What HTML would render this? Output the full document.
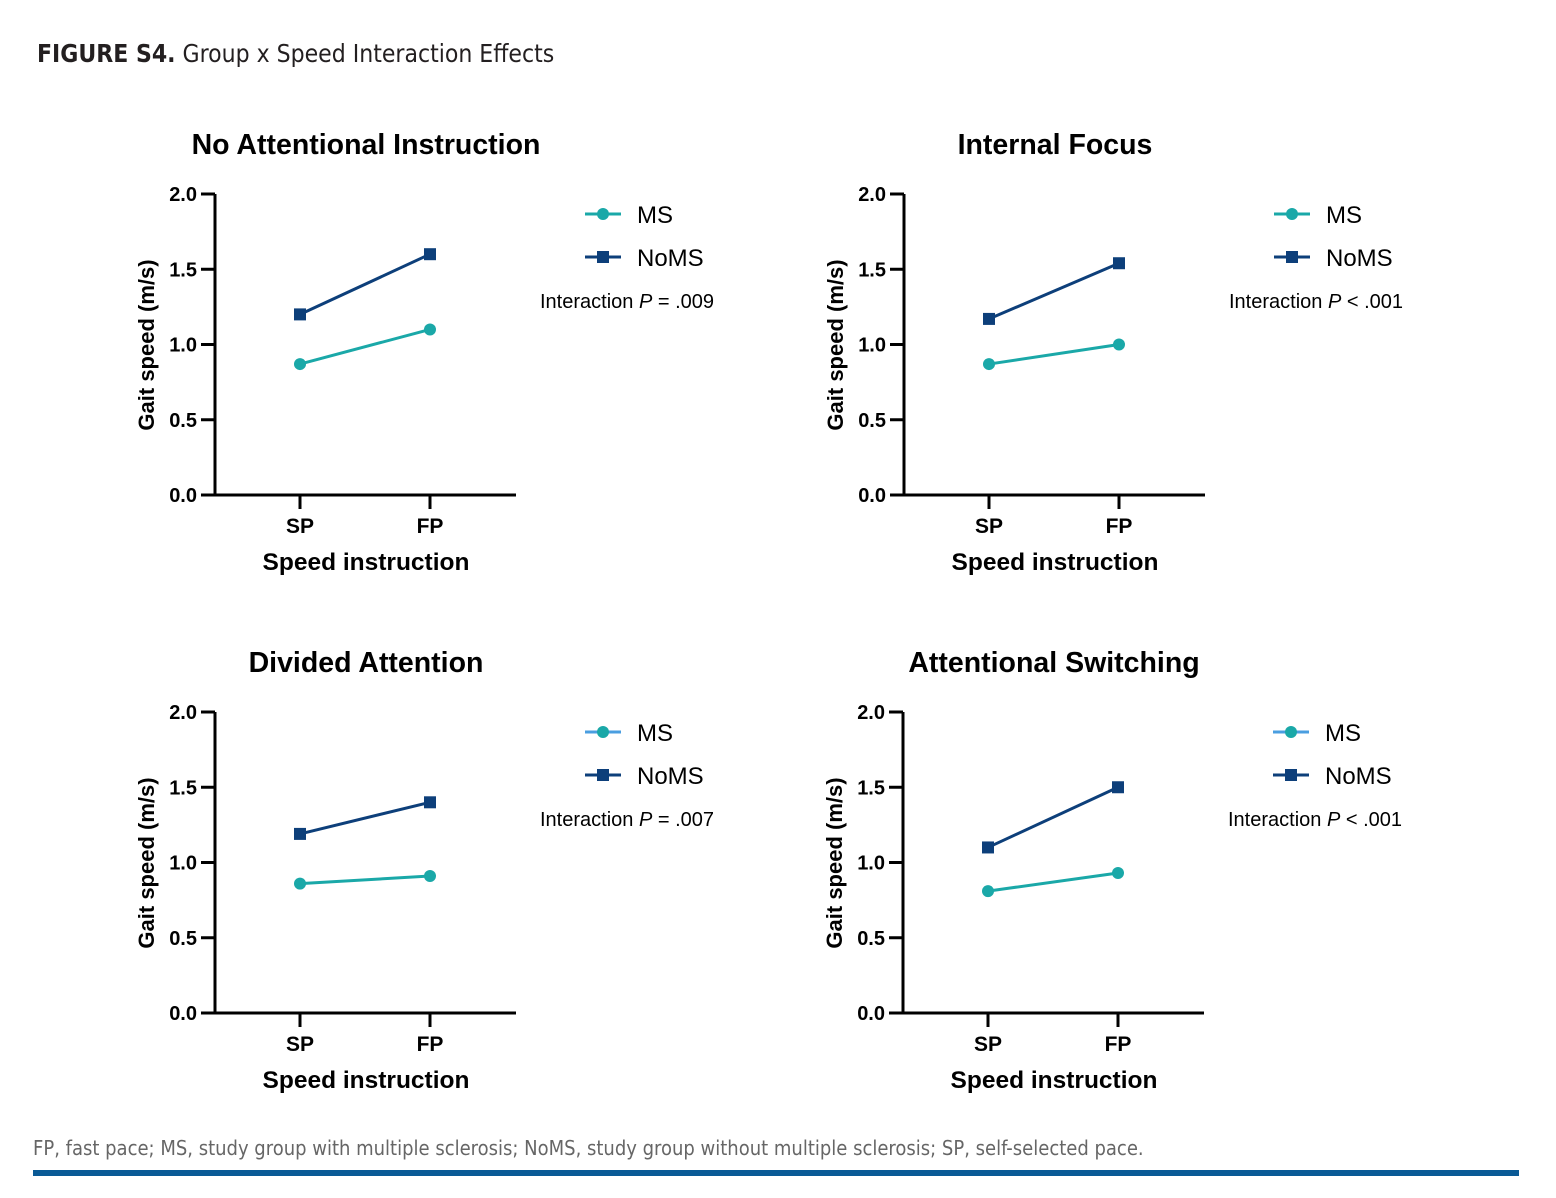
<!DOCTYPE html>
<html><head><meta charset="utf-8"><style>
body{margin:0;background:#fff;}
svg{display:block;font-family:"Liberation Sans",Arial,sans-serif;}
</style></head><body>
<svg id="c" width="1556" height="1198" viewBox="0 0 1556 1198">
<text x="37" y="62" font-size="24.5" fill="#231f20" style="font-family:'DejaVu Sans Condensed','Liberation Sans Narrow','Liberation Sans',sans-serif"><tspan font-weight="bold">FIGURE S4.</tspan> Group x Speed Interaction Effects</text>
<text x="33" y="1155" font-size="20" fill="#666" style="font-family:'DejaVu Sans Condensed','Liberation Sans Narrow','Liberation Sans',sans-serif">FP, fast pace; MS, study group with multiple sclerosis; NoMS, study group without multiple sclerosis; SP, self-selected pace.</text>
<rect x="33" y="1170" width="1486" height="6" fill="#0a5a96"/>
</svg>
<script>
const panelTitles=["No Attentional Instruction","Internal Focus","Divided Attention","Attentional Switching"];
const categories=["SP","FP"];
const msValues=[[0.87,1.10],[0.87,1.00],[0.86,0.91],[0.81,0.93]];
const nomsValues=[[1.20,1.60],[1.17,1.54],[1.19,1.40],[1.10,1.50]];
const pLabels=[["= .009"],["< .001"],["= .007"],["< .001"]];
const yTicks=[0,0.5,1.0,1.5,2.0];
const tickLabels=["0.0","0.5","1.0","1.5","2.0"];
const NS="http://www.w3.org/2000/svg";
const svg=document.getElementById('c');
function mk(tag,attrs,parent,text){const e=document.createElementNS(NS,tag);for(const k in attrs)e.setAttribute(k,attrs[k]);if(text!==undefined)e.textContent=text;(parent||svg).appendChild(e);return e;}
const origins=[[215,194],[904,194],[215,712],[903,712]];
const MS="#1aa8a8",NOMS="#0d3f7a";
panelTitles.forEach((t,i)=>{
  const [ax,top]=origins[i];const h=301,bottom=top+h;
  const g=mk('g',{});
  
  
  const y=v=>bottom-v/2*h;
  const x=j=>ax+85+j*130;
  const tt=mk('text',{x:ax+151,y:top-40,'font-size':28.5,'font-weight':'bold','text-anchor':'middle',fill:'#000'},g,t);
  
  
  const ya=mk('line',{x1:ax,y1:top,x2:ax,y2:bottom+1,stroke:'#000','stroke-width':3},g);
  
  
  const xa=mk('line',{x1:ax-1,y1:bottom,x2:ax+301,y2:bottom,stroke:'#000','stroke-width':3},g);
  
  
  yTicks.forEach((v,k)=>{
    mk('line',{x1:ax-14,y1:y(v),x2:ax,y2:y(v),stroke:'#000','stroke-width':3},g);
    const l=mk('text',{x:ax-18,y:y(v)+7,'font-size':20,'font-weight':'bold','text-anchor':'end'},g,tickLabels[k]);
    
    
  });
  categories.forEach((c,j)=>{
    mk('line',{x1:x(j),y1:bottom,x2:x(j),y2:bottom+14,stroke:'#000','stroke-width':3},g);
    const l=mk('text',{x:x(j),y:bottom+38,'font-size':21,'font-weight':'bold','text-anchor':'middle'},g,c);
    
    
  });
  const xt=mk('text',{x:ax+151,y:bottom+75,'font-size':24.5,'font-weight':'bold','text-anchor':'middle'},g,'Speed instruction');
  
  
  const yt=mk('text',{x:0,y:0,'font-size':22,'font-weight':'bold','text-anchor':'middle',transform:`translate(${ax-61},${top+151}) rotate(-90)`},g,'Gait speed (m/s)');
  
  
  const ln=mk('polyline',{points:nomsValues[i].map((v,j)=>x(j)+','+y(v)).join(' '),fill:'none',stroke:NOMS,'stroke-width':3},g);
  
  
  nomsValues[i].forEach((v,j)=>{const r=mk('rect',{x:x(j)-6,y:y(v)-6,width:12,height:12,fill:NOMS},g);
    
    });
  const lm=mk('polyline',{points:msValues[i].map((v,j)=>x(j)+','+y(v)).join(' '),fill:'none',stroke:MS,'stroke-width':3},g);
  
  
  msValues[i].forEach((v,j)=>{const c=mk('circle',{cx:x(j),cy:y(v),r:6,fill:MS},g);
    
    });
  const lx=ax+370, ly=top+20;
  const msLineColor=i>=2?'#4a9ee0':MS;
  const le1=mk('g',{},g);
  
  
  mk('line',{x1:lx,y1:ly,x2:lx+36,y2:ly,stroke:msLineColor,'stroke-width':3},le1);
  mk('circle',{cx:lx+18,cy:ly,r:6,fill:MS},le1);
  mk('text',{x:lx+52,y:ly+9,'font-size':24},le1,'MS');
  const le2=mk('g',{},g);
  
  
  mk('line',{x1:lx,y1:ly+43,x2:lx+36,y2:ly+43,stroke:NOMS,'stroke-width':3},le2);
  mk('rect',{x:lx+12,y:ly+37,width:12,height:12,fill:NOMS},le2);
  mk('text',{x:lx+52,y:ly+52,'font-size':24},le2,'NoMS');
  const pt=mk('text',{x:lx-45,y:ly+94,'font-size':20},g);
  
  
  mk('tspan',{},pt,'Interaction ');
  mk('tspan',{'font-style':'italic'},pt,'P');
  mk('tspan',{},pt,' '+pLabels[i][0]);
});
</script>
</body></html>
